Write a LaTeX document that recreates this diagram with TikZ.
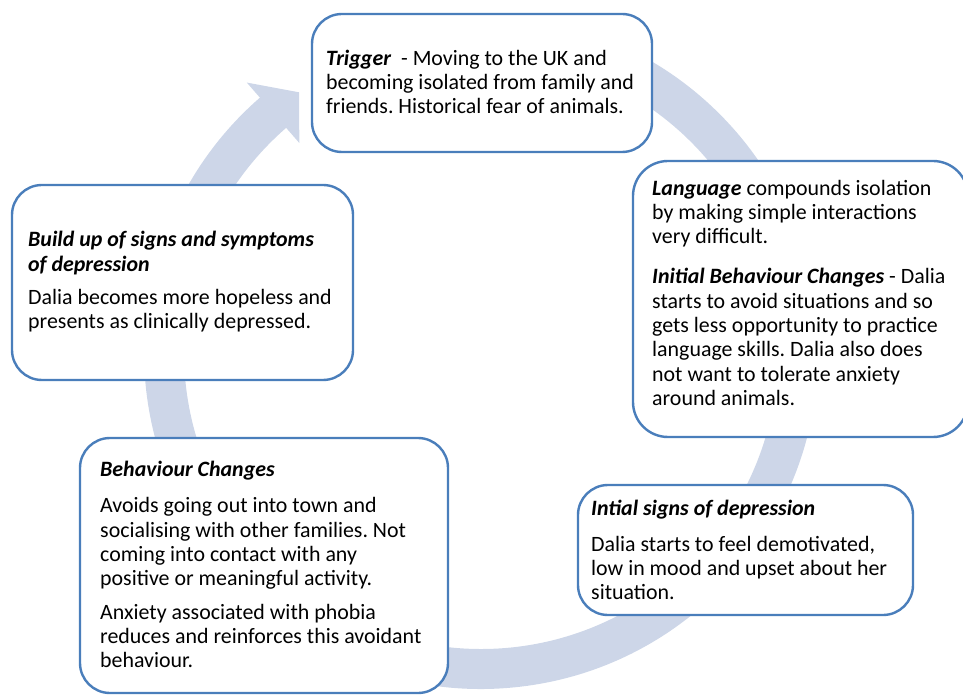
\documentclass[tikz,border=0pt]{standalone}
\usepackage{fontspec}
\setmainfont{Carlito}
\definecolor{boxblue}{RGB}{74,126,187}
\definecolor{bandcol}{RGB}{205,214,232}
\frenchspacing
\begin{document}
\begin{tikzpicture}[x=1pt,y=1pt,
  cbox/.style={draw=boxblue, line width=2.4pt, fill=white, rounded corners=30pt, inner sep=0pt},
  txt/.style={anchor=north west, align=left, inner sep=0pt, font=\fontsize{21.9}{24.3}\selectfont}]
\useasboundingbox (0,0) rectangle (963,694);
\clip (0,0) rectangle (963,694);
\coordinate (c) at (481,342);
% circular arrow
\fill[bandcol] ([shift={(c)}]95:337pt) arc[start angle=95,end angle=-229,radius=337pt]
  -- ([shift={(c)}]131:357pt) -- ([shift={(c)}]125:317pt) -- ([shift={(c)}]131:277pt)
  -- ([shift={(c)}]131:297pt) arc[start angle=-229,end angle=95,radius=297pt] -- cycle;
% boxes
\node[cbox, minimum width=340pt, minimum height=138pt] (trig) at (482,611) {};
\node[cbox, minimum width=335pt, minimum height=276pt, rounded corners=35pt] (lang) at (800.5,395) {};
\node[cbox, minimum width=335pt, minimum height=130pt] (init) at (745.5,144) {};
\node[cbox, minimum width=368pt, minimum height=255pt] (behav) at (264,128.5) {};
\node[cbox, minimum width=341pt, minimum height=195pt] (build) at (182.5,411.5) {};
% texts
\node[txt] (trigtext) at (326,645) {\rule{0pt}{16pt}\textbf{\textit{Trigger}}\ \ - Moving to the UK and\\
becoming isolated from family and\\ friends. Historical fear of animals.};
\node[txt] (langtext) at (652,515) {\rule{0pt}{16pt}\textbf{\textit{Language}} compounds isolation\\
by making simple interactions\\ very difficult.\\[15.8pt]
\textbf{\textit{Initial Behaviour Changes}} - Dalia\\ starts to avoid situations and so\\
gets less opportunity to practice\\ language skills. Dalia also does\\
not want to tolerate anxiety\\ around animals.};
\node[txt] (buildtext) at (28,463.3) {\rule{0pt}{16pt}\textbf{\textit{Build up of signs and symptoms}}\\
\textbf{\textit{of depression}}\\[9pt] Dalia becomes more hopeless and\\ presents as clinically depressed.};
\node[txt] (behavtext) at (100,233.3) {\rule{0pt}{16pt}\textbf{\textit{Behaviour Changes}}\\[11.7pt]
Avoids going out into town and\\ socialising with other families. Not\\
coming into contact with any\\ positive or meaningful activity.\\[9pt]
Anxiety associated with phobia\\ reduces and reinforces this avoidant\\ behaviour.};
\node[txt] (inittext) at (591,195) {\rule{0pt}{16pt}\textbf{\textit{Intial signs of depression}}\\[11.7pt]
Dalia starts to feel demotivated,\\ low in mood and upset about her\\ situation.};
\end{tikzpicture}
\end{document}
